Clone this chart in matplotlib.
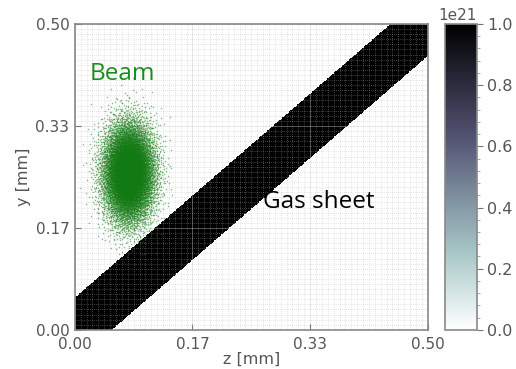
import numpy as np
import matplotlib
matplotlib.use("Agg")
import matplotlib.pyplot as plt
from matplotlib.ticker import AutoMinorLocator, MultipleLocator

# ---- data ----
tick_values = [0.0, 1/6, 1/3, 0.5]
tick_labels = ["0.00", "0.17", "0.33", "0.50"]
cbar_ticks = [0.0, 0.2, 0.4, 0.6, 0.8, 1.0]
gas_density_peak = 1.0e21          # density inside the gas sheet
sheet_lower_offset = -0.052       # lower edge: y = z + offset
sheet_upper_offset = 0.053        # upper edge: y = z + offset
sheet_slope = 1.0
beam_center_z = 0.076
beam_center_y = 0.257
beam_sigma_z = 0.018
beam_sigma_y = 0.040
beam_particles = 12000

# ---- gas sheet field ----
nz = 400
z = np.linspace(0, 0.5, nz)
y = np.linspace(0, 0.5, nz)
Z, Y = np.meshgrid(z, y)
d = Y - sheet_slope * Z
field = np.where((d > sheet_lower_offset) & (d < sheet_upper_offset), gas_density_peak, 0.0)

# ---- beam particles (deterministic Halton sequence + Box-Muller) ----
def halton(n, base):
    out = np.zeros(n)
    for i in range(n):
        f, r, k = 1.0, 0.0, i + 7
        while k > 0:
            f /= base
            r += f * (k % base)
            k //= base
        out[i] = r
    return out

u1 = halton(beam_particles, 2)
u2 = halton(beam_particles, 3)
rad = np.sqrt(-2 * np.log(1 - u1 * 0.9999))
ang = 2 * np.pi * u2
bz = beam_center_z + beam_sigma_z * rad * np.cos(ang)
by = beam_center_y + beam_sigma_y * rad * np.sin(ang)

fig = plt.figure(figsize=(5.16, 3.69), dpi=100)
ax = fig.add_axes([0.145, 0.106, 0.684, 0.829])
cax = fig.add_axes([0.862, 0.106, 0.062, 0.829])

im = ax.imshow(field, origin="lower", extent=[0, 0.5, 0, 0.5], cmap="bone_r",
               vmin=0, vmax=gas_density_peak, aspect="auto", interpolation="nearest")

ax.scatter(bz, by, s=1.2, c="#127a12", marker="o", linewidths=0, alpha=0.5, zorder=3)

# fine dotted grid
ax.xaxis.set_minor_locator(MultipleLocator(0.5 / 60))
ax.yaxis.set_minor_locator(MultipleLocator(0.5 / 60))
ax.grid(which="minor", color="#b8b8b8", linestyle=(0, (1, 2)), linewidth=0.5, alpha=0.7, zorder=4)
ax.grid(which="major", color="#c8c8c8", linestyle="-", linewidth=0.6, alpha=0.5, zorder=4)

ax.set_xlim(0, 0.5)
ax.set_ylim(0, 0.5)
ax.set_xticks(tick_values)
ax.set_xticklabels(tick_labels)
ax.set_yticks(tick_values)
ax.set_yticklabels(tick_labels)
ax.tick_params(which="major", direction="in", length=4, color="#777777", labelsize=11,
               labelcolor="#555555", width=0.8)
ax.tick_params(axis="x", which="major", pad=5)
ax.tick_params(axis="y", which="major", pad=4)
ax.tick_params(which="minor", direction="in", length=0)
for sp in ax.spines.values():
    sp.set_color("#888888")
    sp.set_linewidth(1.2)
ax.set_xlabel("z [mm]", fontsize=11.5, color="#555555", labelpad=0)
ax.set_ylabel("y [mm]", fontsize=11.5, color="#555555", labelpad=3)

ax.text(0.021, 0.408, "Beam", color="#1a8c1a", fontsize=17.5, family="Open Sans", zorder=6)
ax.text(0.266, 0.199, "Gas sheet", color="black", fontsize=17.5, family="Open Sans", zorder=6)

cb = fig.colorbar(im, cax=cax)
cb.set_ticks([v * gas_density_peak for v in cbar_ticks])
cb.ax.yaxis.get_offset_text().set_fontsize(11)
cb.ax.yaxis.get_offset_text().set_color("#555555")
cb.ax.yaxis.set_minor_locator(AutoMinorLocator(5))
cb.ax.tick_params(which="major", labelsize=11.5, labelcolor="#555555", color="#777777", length=4)
cb.ax.tick_params(which="minor", color="#999999", length=2)
cb.outline.set_edgecolor("#888888")
cb.outline.set_linewidth(1.2)

fig.savefig("out.png", dpi=100)
